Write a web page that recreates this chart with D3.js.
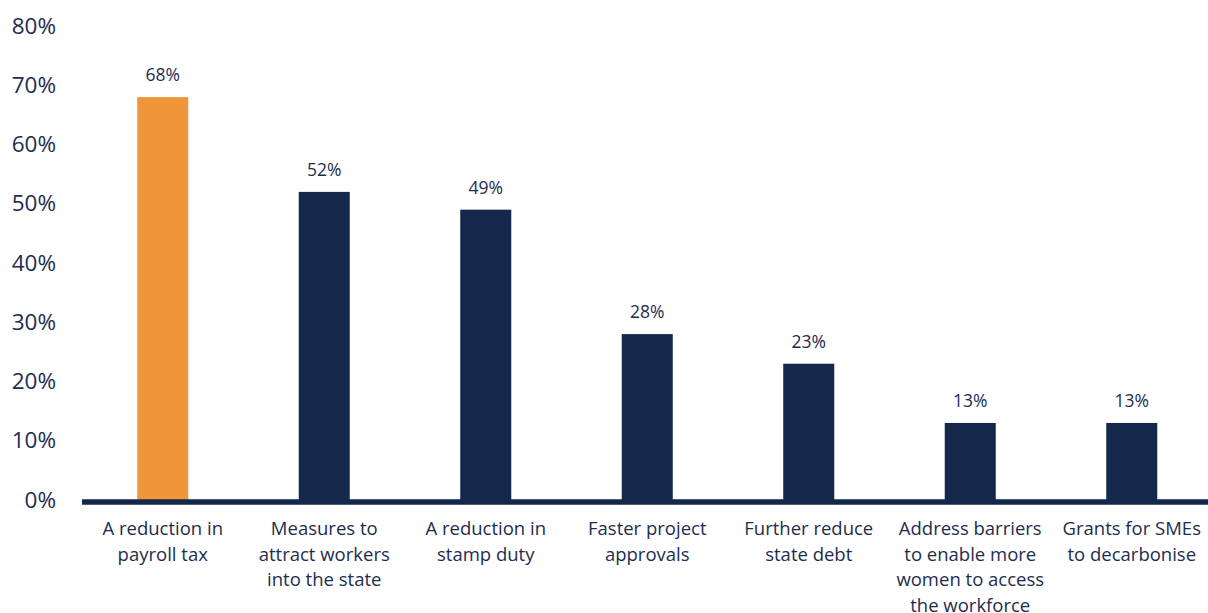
<!DOCTYPE html>
<html>
<head>
<meta charset="utf-8">
<script src="https://cdn.jsdelivr.net/npm/d3@7"></script>
<style>
  html, body { margin: 0; padding: 0; background: #fff; }
  svg { display: block; font-family: "Open Sans", sans-serif; }
</style>
</head>
<body>
<svg id="chart" width="1208" height="613"></svg>
<script>
// Survey responses: share of respondents choosing each policy priority
const categories = [
  ["A reduction in", "payroll tax"],
  ["Measures to", "attract workers", "into the state"],
  ["A reduction in", "stamp duty"],
  ["Faster project", "approvals"],
  ["Further reduce", "state debt"],
  ["Address barriers", "to enable more", "women to access", "the workforce"],
  ["Grants for SMEs", "to decarbonise"]
];
const values = [68, 52, 49, 28, 23, 13, 13];
const yTicks = [0, 10, 20, 30, 40, 50, 60, 70, 80];

const navy = "#14284b";
const orange = "#f0963a";
const textColor = "#1e2d4f";

const svg = d3.select("#chart");

const x = d3.scaleBand()
  .domain(d3.range(categories.length))
  .range([82, 1212.5])
  .paddingInner(0.684)
  .paddingOuter(0.342);

const y = d3.scaleLinear().domain([0, 80]).range([500, 26]);

// Y axis labels (no axis line or ticks)
const yAxis = d3.axisLeft(y)
  .tickValues(yTicks)
  .tickFormat(d => d + "%")
  .tickSize(0)
  .tickPadding(0);
const yg = svg.append("g").attr("transform", "translate(56,0)").call(yAxis);
yg.select(".domain").remove();
yg.selectAll("text")
  .attr("fill", textColor)
  .style("font-size", "22.5px")
  .style("font-family", "'Open Sans', sans-serif");

// Bars
svg.append("g").selectAll("rect")
  .data(values)
  .join("rect")
  .attr("x", (d, i) => x(i))
  .attr("width", x.bandwidth())
  .attr("y", d => y(d))
  .attr("height", d => y(0) - y(d))
  .attr("fill", (d, i) => i === 0 ? orange : navy);

// Baseline
svg.append("line")
  .attr("x1", 82).attr("x2", 1208)
  .attr("y1", y(0) + 2).attr("y2", y(0) + 2)
  .attr("stroke", navy)
  .attr("stroke-width", 5.5);

// Value labels
svg.append("g").selectAll("text")
  .data(values)
  .join("text")
  .attr("x", (d, i) => x(i) + x.bandwidth() / 2)
  .attr("y", d => y(d) - 16)
  .attr("text-anchor", "middle")
  .attr("fill", textColor)
  .style("font-size", "17.5px")
  .text(d => d + "%");

// Category labels
const cat = svg.append("g").selectAll("text")
  .data(categories)
  .join("text")
  .attr("x", (d, i) => x(i) + x.bandwidth() / 2)
  .attr("y", 535)
  .attr("text-anchor", "middle")
  .attr("fill", textColor)
  .style("font-size", "18.5px");
cat.selectAll("tspan")
  .data(d => d)
  .join("tspan")
  .attr("x", function() { return this.parentNode.getAttribute("x"); })
  .attr("dy", (d, i) => i === 0 ? 0 : 25.7)
  .text(d => d);
</script>
</body>
</html>
